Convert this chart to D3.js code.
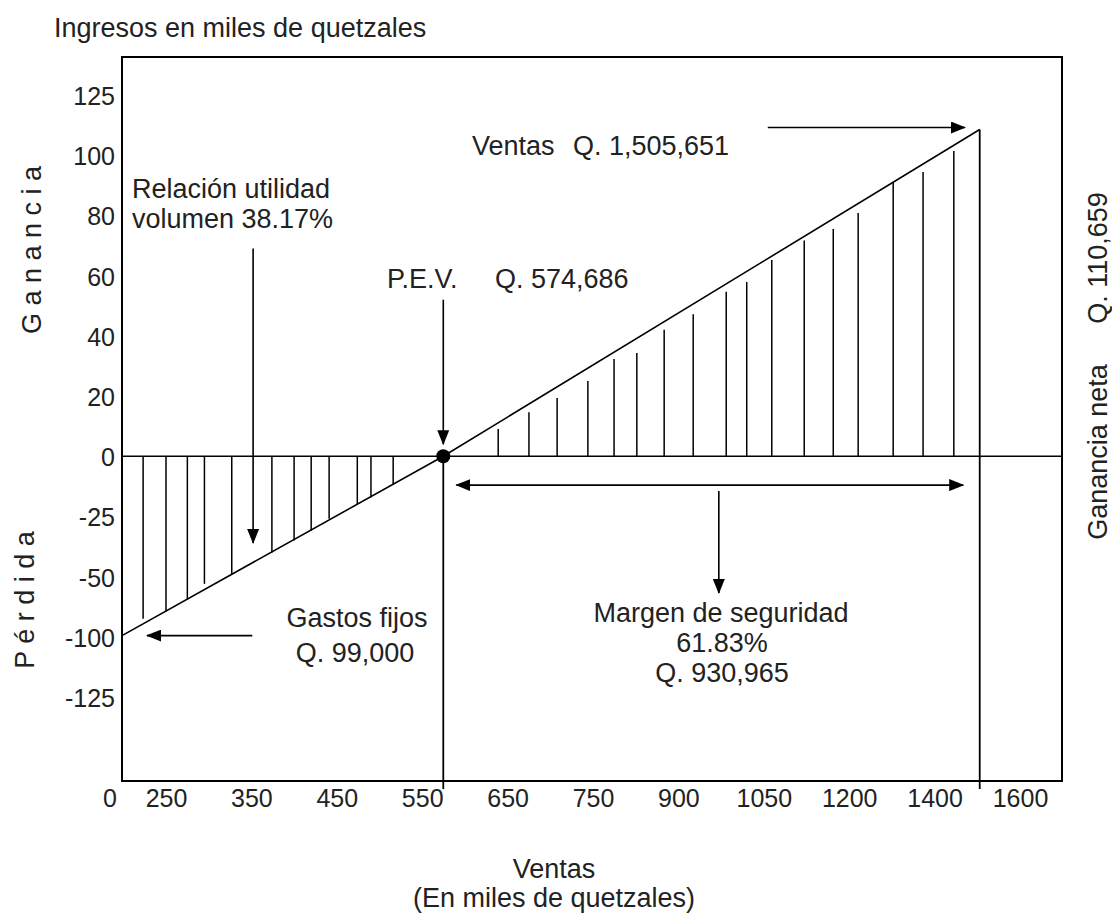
<!DOCTYPE html>
<html><head><meta charset="utf-8">
<script src="https://cdn.jsdelivr.net/npm/d3@7"></script>
<style>
body{margin:0;background:#fff}
text{font-family:"Liberation Sans",Arial,sans-serif;fill:#222}
</style>
</head><body>
<svg id="c" width="1112" height="918"></svg>
<script>
// ---------------- data (thousands of quetzales) ----------------
const xTickLabels = [250, 350, 450, 550, 650, 750, 900, 1050, 1200, 1400, 1600];
const yTickLabels = [125, 100, 80, 60, 40, 20, 0, -25, -50, -100, -125];
const fixedCosts = 99;
const breakEvenSales = 574.686;
const totalSales = 1505.651;
const netProfit = 110.659;
const profitLineSales = [0, breakEvenSales, totalSales];
const profitLineValues = [-fixedCosts, 0, netProfit];
const lossHatchSales = [120, 250, 275, 295, 327, 374, 400, 420, 441, 474, 490, 516];
const lossHatchValues = [-85, -79, -69, -56, -49, -40, -35, -31, -26, -20, -17, -12];
const gainHatchSales = [639, 675, 708, 744, 787, 827, 875, 926, 984, 1020, 1064, 1121, 1172, 1221, 1303, 1373, 1445];
const gainHatchValues = [9, 14.6, 19.3, 25, 32.3, 34.3, 42, 47.2, 54.6, 57.9, 65.2, 71.7, 75.5, 80.8, 91.1, 94.4, 101.7];
// annotation arrows: [sales, value] from -> to
const arrowFrom = [[352, 69], [breakEvenSales, 52], [351, -fixedCosts], [1057, 111.5], [590, -12], [971, -14.5]];
const arrowTo   = [[352, -36], [breakEvenSales, 4], [142, -fixedCosts], [1471, 111.5], [1467, -12], [971, -63.6]];
const arrowBoth = [false, false, false, false, true, false];

// ---------------- layout ----------------
const frame = {left: 122, right: 1062, top: 57, bottom: 781};
const svg = d3.select('#c');

const xPoint = d3.scalePoint().domain(xTickLabels).range([166, 1020]);
const yPoint = d3.scalePoint().domain(yTickLabels).range([95, 697]);
const x = d3.scaleLinear()
  .domain([0, ...xTickLabels])
  .range([frame.left, ...xTickLabels.map(d => xPoint(d))]);
const yAsc = yTickLabels.slice().reverse();
const y = d3.scaleLinear().domain(yAsc).range(yAsc.map(d => yPoint(d)));

const defs = svg.append('defs');
defs.append('marker').attr('id', 'ah')
  .attr('viewBox', '0 0 15 12').attr('refX', 14).attr('refY', 6)
  .attr('markerWidth', 15).attr('markerHeight', 12)
  .attr('markerUnits', 'userSpaceOnUse').attr('orient', 'auto-start-reverse')
  .append('path').attr('d', 'M0,0L15,6L0,12Z').attr('fill', '#000');

// frame
svg.append('rect')
  .attr('x', frame.left).attr('y', frame.top)
  .attr('width', frame.right - frame.left).attr('height', frame.bottom - frame.top)
  .attr('fill', 'none').attr('stroke', '#000').attr('stroke-width', 2);

// zero line
svg.append('line')
  .attr('x1', frame.left).attr('x2', frame.right)
  .attr('y1', y(0)).attr('y2', y(0))
  .attr('stroke', '#000').attr('stroke-width', 1.6);

// hatch lines
const hatchG = svg.append('g').attr('stroke', '#000').attr('stroke-width', 1.5);
lossHatchSales.forEach((s, i) => {
  hatchG.append('line').attr('x1', x(s)).attr('x2', x(s)).attr('y1', y(0)).attr('y2', y(lossHatchValues[i]));
});
gainHatchSales.forEach((s, i) => {
  hatchG.append('line').attr('x1', x(s)).attr('x2', x(s)).attr('y1', y(0)).attr('y2', y(gainHatchValues[i]));
});

// profit line
const lineData = profitLineSales.map((s, i) => [s, profitLineValues[i]]);
svg.append('path').datum(lineData)
  .attr('d', d3.line().x(d => x(d[0])).y(d => y(d[1])))
  .attr('fill', 'none').attr('stroke', '#000').attr('stroke-width', 1.6);

// vertical lines at break-even and total sales
svg.append('line')
  .attr('x1', x(breakEvenSales)).attr('x2', x(breakEvenSales))
  .attr('y1', y(0)).attr('y2', frame.bottom + 8)
  .attr('stroke', '#000').attr('stroke-width', 1.8);
svg.append('line')
  .attr('x1', x(totalSales)).attr('x2', x(totalSales))
  .attr('y1', y(netProfit)).attr('y2', frame.bottom + 8)
  .attr('stroke', '#000').attr('stroke-width', 1.8);

// break-even dot
svg.append('circle').attr('cx', x(breakEvenSales)).attr('cy', y(0)).attr('r', 7).attr('fill', '#000');

// arrows
arrowFrom.forEach((f, i) => {
  const t = arrowTo[i];
  const l = svg.append('line')
    .attr('x1', x(f[0])).attr('y1', y(f[1]))
    .attr('x2', x(t[0])).attr('y2', y(t[1]))
    .attr('stroke', '#000').attr('stroke-width', 1.6)
    .attr('marker-end', 'url(#ah)');
  if (arrowBoth[i]) l.attr('marker-start', 'url(#ah)');
});

// axes (tick labels only)
const yAxis = svg.append('g').attr('transform', 'translate(115,0)')
  .call(d3.axisLeft(yPoint).tickSize(0).tickPadding(0));
yAxis.select('.domain').remove();
yAxis.selectAll('text').attr('font-size', 25).attr('dy', '0.38em')
  .style('font-family', '"Liberation Sans",Arial,sans-serif').attr('fill', '#222');

const xAxis = svg.append('g').attr('transform', `translate(0,${frame.bottom})`)
  .call(d3.axisBottom(xPoint).tickSize(0).tickPadding(8));
xAxis.select('.domain').remove();
xAxis.selectAll('text').attr('font-size', 25)
  .style('font-family', '"Liberation Sans",Arial,sans-serif').attr('fill', '#222');
svg.append('text').attr('x', 110).attr('y', 807).attr('text-anchor', 'middle')
  .attr('font-size', 25).text('0');

// texts
const T = (txt, px, py, anchor, size, rot) => {
  const t = svg.append('text').attr('font-size', size || 27).attr('text-anchor', anchor || 'start').text(txt);
  if (rot) t.attr('transform', `translate(${px},${py}) rotate(${rot})`);
  else t.attr('x', px).attr('y', py);
  return t;
};
T('Ingresos en miles de quetzales', 54, 37);
T('G a n a n c i a', 41, 250, 'middle', 27, -90);
T('P é r d i d a', 34, 600, 'middle', 27, -90);
T('Q. 110,659', 1107, 258, 'middle', 27, -90);
T('Ganancia neta', 1107, 452, 'middle', 27, -90);
T('Relación utilidad', 132, 198);
T('volumen 38.17%', 132, 228);
T('P.E.V.', 387, 288);
T('Q. 574,686', 495, 288);
T('Ventas', 472, 155);
T('Q. 1,505,651', 573, 155);
T('Gastos fijos', 357, 627, 'middle');
T('Q. 99,000', 355, 662, 'middle');
T('Margen de seguridad', 721, 622, 'middle');
T('61.83%', 722, 652, 'middle');
T('Q. 930,965', 722, 682, 'middle');
T('Ventas', 554, 878, 'middle');
T('(En miles de quetzales)', 554, 907, 'middle');
</script>
</body></html>
